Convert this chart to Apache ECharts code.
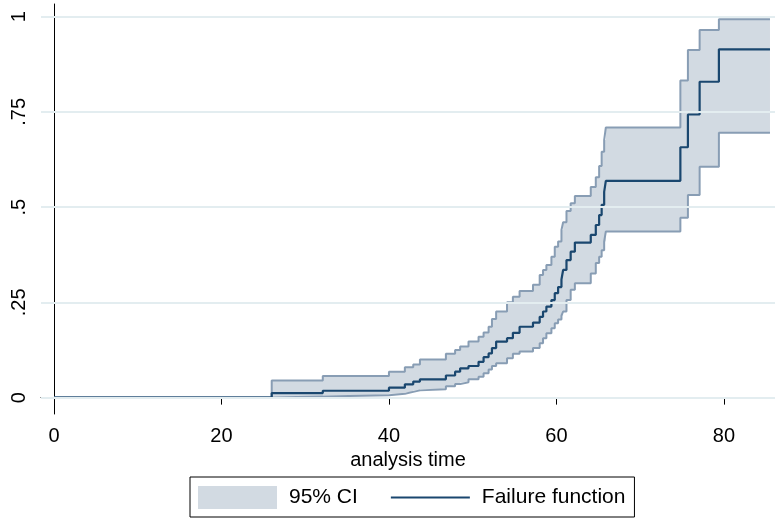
<!DOCTYPE html>
<html>
<head>
<meta charset="utf-8">
<script src="https://cdn.jsdelivr.net/npm/echarts@6/dist/echarts.min.js"></script>
<style>
  html, body { margin: 0; background: #fff; }
  #chart { width: 775px; height: 518px; }
</style>
</head>
<body>
<div id="chart"></div>
<script>
// step times (analysis time) and the estimate that holds from each time on
const times = [0, 26.0, 32.1, 40.0, 41.9, 42.9, 43.7, 46.8, 47.9, 48.5, 49.5, 50.7, 51.3, 51.9, 52.3, 52.8,
  54.1, 54.8, 55.6, 57.2, 58.0, 58.4, 58.8, 59.4, 59.8, 60.2, 60.6, 60.8, 61.2, 61.7, 62.2,
  64.1, 64.7, 65.1, 65.4, 65.7, 65.9, 74.8, 75.7, 77.1, 79.4, 85.5]
const failure = [0, 0.012, 0.018, 0.026, 0.035, 0.042, 0.048, 0.058, 0.068, 0.077, 0.083, 0.094, 0.106, 0.116, 0.130, 0.147,
  0.156, 0.170, 0.186, 0.197, 0.212, 0.226, 0.239, 0.256, 0.274, 0.290, 0.310, 0.335, 0.361, 0.383, 0.407,
  0.427, 0.453, 0.479, 0.506, 0.540, 0.569, 0.657, 0.743, 0.829, 0.914, 0.914]
const upper = [0, 0.045, 0.057, 0.068, 0.080, 0.087, 0.100, 0.115, 0.125, 0.134, 0.147, 0.160, 0.171, 0.186, 0.206, 0.226,
  0.250, 0.265, 0.280, 0.296, 0.322, 0.335, 0.348, 0.370, 0.396, 0.410, 0.440, 0.460, 0.490, 0.510, 0.529,
  0.553, 0.578, 0.608, 0.645, 0.676, 0.709, 0.832, 0.912, 0.965, 0.993, 0.993]
const lower = [0, 0.003, 0.006, 0.010, 0.015, 0.019, 0.022, 0.030, 0.036, 0.040, 0.048, 0.055, 0.064, 0.074, 0.083, 0.090,
  0.103, 0.115, 0.121, 0.130, 0.143, 0.156, 0.169, 0.182, 0.195, 0.205, 0.215, 0.226, 0.256, 0.283, 0.300,
  0.326, 0.353, 0.370, 0.387, 0.410, 0.436, 0.472, 0.532, 0.606, 0.695, 0.695]

const xTicks = [0, 20, 40, 60, 80]
const yTicks = [0, 0.25, 0.5, 0.75, 1]
const yTickLabels = ['0', '.25', '.5', '.75', '1']

const FONT = '"Liberation Sans", Arial, Helvetica, sans-serif'
const pairs = vals => times.map((t, i) => [t, vals[i]])

// step outline of one bound, through the axis scales
function stepPoints (api, vals) {
  const pts = []
  for (let i = 0; i < times.length; i++) {
    pts.push(api.coord([times[i], vals[i]]))
    if (i < times.length - 1) pts.push(api.coord([times[i + 1], vals[i]]))
  }
  return pts
}

const chart = echarts.init(document.getElementById('chart'))
chart.setOption({
  animation: false,
  backgroundColor: '#fff',
  grid: { left: 41, right: 0, top: 4, bottom: 104 },
  xAxis: {
    type: 'value',
    min: -1.55,
    max: 86.1,
    name: 'analysis time',
    nameLocation: 'middle',
    nameGap: 28,
    nameTextStyle: { color: '#000', fontSize: 20, fontFamily: FONT },
    axisLine: { lineStyle: { color: '#000', width: 1 } },
    axisTick: { length: 7, lineStyle: { color: '#000' }, customValues: xTicks },
    axisLabel: { customValues: xTicks, color: '#000', fontSize: 20, fontFamily: FONT, margin: 12 },
    splitLine: { show: false }
  },
  yAxis: {
    type: 'value',
    min: -0.043,
    max: 1.033,
    axisLine: { show: true, lineStyle: { color: '#000', width: 1 } },
    axisTick: { show: true, length: 6, lineStyle: { color: '#000' }, customValues: yTicks },
    axisLabel: {
      customValues: yTicks,
      rotate: 90,
      color: '#000',
      fontSize: 20,
      fontFamily: FONT,
      margin: 12,
      formatter: v => yTickLabels[yTicks.findIndex(y => Math.abs(y - v) < 1e-6)]
    },
    splitLine: { show: false }
  },
  legend: {
    left: 190,
    top: 477,
    data: [
      { name: '95% CI', icon: 'rect', itemStyle: { color: '#d2dae2', borderWidth: 0 } },
      { name: 'Failure function', itemStyle: { color: 'transparent', borderWidth: 0, opacity: 0 } }
    ],
    itemWidth: 79,
    itemHeight: 23,
    itemGap: 32,
    padding: [9, 9, 8, 8],
    borderColor: '#000',
    borderWidth: 1,
    borderRadius: 0,
    backgroundColor: '#fff',
    selectedMode: false,
    textStyle: { color: '#000', fontSize: 21, fontFamily: FONT, padding: [0, 0, 0, 7] }
  },
  series: [
    // grid lines
    {
      name: 'grid',
      type: 'line',
      data: [],
      z: 1,
      silent: true,
      markLine: {
        silent: true,
        symbol: 'none',
        label: { show: false },
        lineStyle: { color: '#e3edf0', width: 2, type: 'solid' },
        data: yTicks.map(v => ({ yAxis: v }))
      }
    },
    // confidence band, one polygon between the two step bounds
    {
      name: '95% CI',
      type: 'custom',
      silent: true,
      z: 2,
      color: '#d2dae2',
      data: times.map((t, i) => [t, lower[i], upper[i]]),
      encode: { x: 0, y: [1, 2] },
      renderItem: (params, api) => {
        if (params.dataIndex !== 0) return null
        const pts = stepPoints(api, upper).concat(stepPoints(api, lower).reverse())
        return {
          type: 'polygon',
          shape: { points: pts },
          style: { fill: '#d2dae2', stroke: null }
        }
      }
    },
    {
      name: 'upperCI',
      type: 'line',
      step: 'end',
      symbol: 'none',
      silent: true,
      z: 3,
      lineStyle: { color: '#889db4', width: 2 },
      data: pairs(upper)
    },
    {
      name: 'lowerCI',
      type: 'line',
      step: 'end',
      symbol: 'none',
      silent: true,
      z: 3,
      lineStyle: { color: '#889db4', width: 2 },
      data: pairs(lower)
    },
    {
      name: 'Failure function',
      type: 'line',
      step: 'end',
      symbol: 'none',
      silent: true,
      z: 4,
      color: '#1a476f',
      lineStyle: { color: '#1a476f', width: 2.2 },
      data: pairs(failure)
    }
  ]
})
</script>
</body>
</html>
